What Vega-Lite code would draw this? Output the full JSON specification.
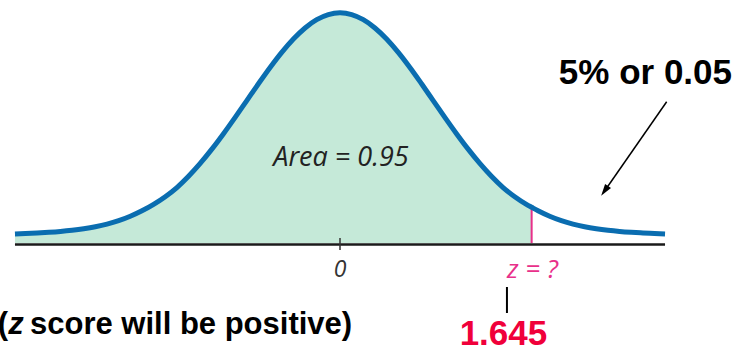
{
  "$schema": "https://vega.github.io/schema/vega-lite/v6.json",
  "width": 733,
  "height": 352,
  "padding": 0,
  "autosize": {"type": "none"},
  "background": "white",
  "config": {"view": {"stroke": null}},
  "datasets": {
    "curve": [
      {"z": -2.79, "y": 0.0155},
      {"z": -2.7, "y": 0.0163},
      {"z": -2.6, "y": 0.0173},
      {"z": -2.5, "y": 0.0185},
      {"z": -2.4, "y": 0.02},
      {"z": -2.3, "y": 0.022},
      {"z": -2.2, "y": 0.0246},
      {"z": -2.1, "y": 0.028},
      {"z": -2.0, "y": 0.0325},
      {"z": -1.9, "y": 0.0385},
      {"z": -1.8, "y": 0.0462},
      {"z": -1.7, "y": 0.0556},
      {"z": -1.6, "y": 0.0668},
      {"z": -1.5, "y": 0.08},
      {"z": -1.4, "y": 0.0958},
      {"z": -1.3, "y": 0.1153},
      {"z": -1.2, "y": 0.1375},
      {"z": -1.1, "y": 0.1621},
      {"z": -1.0, "y": 0.1888},
      {"z": -0.9, "y": 0.217},
      {"z": -0.8, "y": 0.246},
      {"z": -0.7, "y": 0.275},
      {"z": -0.6, "y": 0.3031},
      {"z": -0.5, "y": 0.3292},
      {"z": -0.4, "y": 0.3523},
      {"z": -0.3, "y": 0.3714},
      {"z": -0.2, "y": 0.3857},
      {"z": -0.1, "y": 0.3945},
      {"z": 0, "y": 0.3975},
      {"z": 0.1, "y": 0.3945},
      {"z": 0.2, "y": 0.3857},
      {"z": 0.3, "y": 0.3714},
      {"z": 0.4, "y": 0.3523},
      {"z": 0.5, "y": 0.3292},
      {"z": 0.6, "y": 0.3031},
      {"z": 0.7, "y": 0.275},
      {"z": 0.8, "y": 0.246},
      {"z": 0.9, "y": 0.217},
      {"z": 1.0, "y": 0.1888},
      {"z": 1.1, "y": 0.1621},
      {"z": 1.2, "y": 0.1375},
      {"z": 1.3, "y": 0.1153},
      {"z": 1.4, "y": 0.0958},
      {"z": 1.5, "y": 0.08},
      {"z": 1.6, "y": 0.0668},
      {"z": 1.645, "y": 0.0617},
      {"z": 1.7, "y": 0.0556},
      {"z": 1.8, "y": 0.0462},
      {"z": 1.9, "y": 0.0385},
      {"z": 2.0, "y": 0.0325},
      {"z": 2.1, "y": 0.028},
      {"z": 2.2, "y": 0.0246},
      {"z": 2.3, "y": 0.022},
      {"z": 2.4, "y": 0.02},
      {"z": 2.5, "y": 0.0185},
      {"z": 2.6, "y": 0.0173},
      {"z": 2.7, "y": 0.0163},
      {"z": 2.79, "y": 0.0155}
    ]
  },
  "encoding": {
    "x": {"field": "z", "type": "quantitative", "scale": {"domain": [-2.9185, 3.3734], "nice": false, "zero": false}, "axis": null},
    "y": {"field": "y", "type": "quantitative", "scale": {"domain": [-0.18826, 0.41969], "nice": false, "zero": false}, "axis": null}
  },
  "layer": [
    {
      "data": {"name": "curve"},
      "transform": [{"filter": "datum.z <= 1.645"}],
      "mark": {"type": "area", "color": "#c5e9d8", "interpolate": "monotone"},
      "encoding": {"y2": {"datum": 0}}
    },
    {
      "data": {"values": [{"z": -2.79, "z2": 2.79, "y": -0.0026}]},
      "mark": {"type": "rule", "color": "#1a1a1a", "strokeWidth": 2.5},
      "encoding": {"x2": {"field": "z2"}}
    },
    {
      "data": {"values": [{"z": 0, "y": 0.0086, "y2": -0.0121}]},
      "mark": {"type": "rule", "color": "#333333", "strokeWidth": 1.5},
      "encoding": {"y2": {"field": "y2"}}
    },
    {
      "data": {"values": [{"z": 1.645, "y": 0, "y2": 0.0617}]},
      "mark": {"type": "rule", "color": "#e8308a", "strokeWidth": 2},
      "encoding": {"y2": {"field": "y2"}}
    },
    {
      "data": {"name": "curve"},
      "mark": {"type": "line", "color": "#0a6db0", "strokeWidth": 5, "interpolate": "monotone", "strokeCap": "butt"}
    },
    {
      "data": {"values": [{"z": 1.433, "y": -0.076, "y2": -0.1209}]},
      "mark": {"type": "rule", "color": "#000000", "strokeWidth": 2},
      "encoding": {"y2": {"field": "y2"}}
    },
    {
      "data": {"values": [{"z": 2.804, "y": 0.244, "z2": 2.283, "y2": 0.0933}]},
      "mark": {"type": "rule", "color": "#000000", "strokeWidth": 1.5},
      "encoding": {"x2": {"field": "z2"}, "y2": {"field": "y2"}}
    },
    {
      "data": {"values": [{"z": 2.2712, "y": 0.09}]},
      "mark": {"type": "point", "shape": "M0,-1L0.6,1L-0.6,1Z", "filled": true, "color": "#000000", "opacity": 1, "size": 144, "angle": 215}
    },
    {
      "data": {"values": [{"z": 0.0086, "y": 0.1468, "label": "Area = 0.95"}]},
      "mark": {"type": "text", "font": "Open Sans", "fontStyle": "italic", "fontWeight": 400, "fontSize": 27, "color": "#222222", "align": "center", "baseline": "middle"},
      "encoding": {"text": {"field": "label"}}
    },
    {
      "data": {"values": [{"z": 0, "y": -0.0466, "label": "0"}]},
      "mark": {"type": "text", "font": "Open Sans", "fontStyle": "italic", "fontWeight": 400, "fontSize": 23, "color": "#333333", "align": "center", "baseline": "middle"},
      "encoding": {"text": {"field": "label"}}
    },
    {
      "data": {"values": [{"z": 1.652, "y": -0.0466, "label": "z = ?"}]},
      "mark": {"type": "text", "font": "Open Sans", "fontStyle": "italic", "fontWeight": 400, "fontSize": 26, "color": "#e8308a", "align": "center", "baseline": "middle"},
      "encoding": {"text": {"field": "label"}}
    },
    {
      "data": {"values": [{"z": 1.403, "y": -0.1572, "label": "1.645"}]},
      "mark": {"type": "text", "font": "Liberation Sans", "fontWeight": "bold", "fontSize": 35, "color": "#f0003a", "align": "center", "baseline": "middle"},
      "encoding": {"text": {"field": "label"}}
    },
    {
      "data": {"values": [{"z": 3.365, "y": 0.2936, "label": "5% or 0.05"}]},
      "mark": {"type": "text", "font": "Liberation Sans", "fontWeight": "bold", "fontSize": 35, "color": "#000000", "align": "right", "baseline": "middle"},
      "encoding": {"text": {"field": "label"}}
    },
    {
      "data": {"values": [{"z": -2.893, "y": -0.1416, "label": "("}]},
      "mark": {"type": "text", "font": "Liberation Sans", "fontWeight": "bold", "fontSize": 31, "color": "#000000", "align": "center", "baseline": "middle"},
      "encoding": {"text": {"field": "label"}}
    },
    {
      "data": {"values": [{"z": -2.781, "y": -0.1416, "label": "z"}]},
      "mark": {"type": "text", "font": "Liberation Sans", "fontWeight": "bold", "fontStyle": "italic", "fontSize": 31, "color": "#000000", "align": "center", "baseline": "middle"},
      "encoding": {"text": {"field": "label"}}
    },
    {
      "data": {"values": [{"z": -2.661, "y": -0.1416, "label": "score will be positive)"}]},
      "mark": {"type": "text", "font": "Liberation Sans", "fontWeight": "bold", "fontSize": 31, "color": "#000000", "align": "left", "baseline": "middle"},
      "encoding": {"text": {"field": "label"}}
    }
  ]
}
